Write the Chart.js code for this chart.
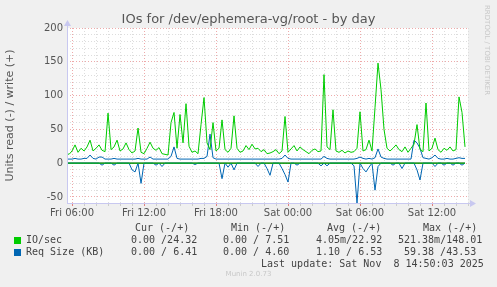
<!DOCTYPE html>
<html>
<head>
<meta charset="utf-8">
<script src="https://cdn.jsdelivr.net/npm/chart.js@4"></script>
<style>
  body { margin: 0; background: #f0f0f0; }
  #wrap { position: relative; width: 497px; height: 287px; overflow: hidden; }
  #wrap canvas { position: absolute; left: 0; top: 0; }
  .t { position: absolute; white-space: pre; color: #444; }
  .mono { font-family: "DejaVu Sans Mono", monospace; font-size: 10px; line-height: 12px; }
  .sq { position: absolute; width: 7px; height: 7px; }
</style>
</head>
<body>
<div id="wrap">
  <canvas id="myChart" width="497" height="287"></canvas>
  <div class="t" style="left:0;width:497px;top:11px;text-align:center;font:13px 'DejaVu Sans';color:#555">IOs for /dev/ephemera-vg/root - by day</div>
  <div class="t" style="left:480px;top:5px;font:7px 'DejaVu Sans';color:#c8c8c8;transform-origin:0 0;transform:translate(11px,0) rotate(90deg)">RRDTOOL / TOBI OETIKER</div>
  <div class="t mono" style="left:135px;top:222px">Cur (-/+)</div>
  <div class="t mono" style="left:231px;top:222px">Min (-/+)</div>
  <div class="t mono" style="left:327px;top:222px">Avg (-/+)</div>
  <div class="t mono" style="left:423px;top:222px">Max (-/+)</div>
  <div class="sq" style="left:14px;top:237px;background:#00cc00"></div>
  <div class="t mono" style="left:26px;top:234px">IO/sec</div>
  <div class="t mono" style="left:131px;top:234px">0.00 /24.32</div>
  <div class="t mono" style="left:223px;top:234px">0.00 / 7.51</div>
  <div class="t mono" style="left:316px;top:234px">4.05m/22.92</div>
  <div class="t mono" style="left:398px;top:234px">521.38m/148.01</div>
  <div class="sq" style="left:14px;top:249px;background:#0066b3"></div>
  <div class="t mono" style="left:26px;top:246px">Req Size (KB)</div>
  <div class="t mono" style="left:131px;top:246px">0.00 / 6.41</div>
  <div class="t mono" style="left:223px;top:246px">0.00 / 4.60</div>
  <div class="t mono" style="left:316px;top:246px">1.10 / 6.53</div>
  <div class="t mono" style="left:404px;top:246px">59.38 /43.53</div>
  <div class="t mono" style="left:261px;top:258px">Last update: Sat Nov  8 14:50:03 2025</div>
  <div class="t" style="left:0;width:497px;top:270px;text-align:center;font:7px 'DejaVu Sans';color:#c8c8c8">Munin 2.0.73</div>
</div>
<script>
// hours since Fri 00:00, one sample every 15 minutes from Fri 05:30 to Sat 14:45
var startHour = 5.5;
var stepHour = 0.25;

var ioWrite = [15,13,18,27,16,22,18,24,34,18, 22,27,19,17,74,20,24,34,18,21,
               30,20,15,18,52,16,14,22,31,22, 19,23,14,13,12,60,75,22,72,30,
               88,25,16,18,14,57,97,30,20,60, 18,22,64,20,16,22,70,22,16,18,
               26,20,28,21,22,17,20,14,15,17, 20,14,18,69,16,21,26,18,24,20,
               17,14,19,21,17,18,131,24,20,79, 18,16,19,15,18,16,17,22,76,18,
               20,34,18,82,148,109,50,22,18,22, 27,20,17,24,16,22,28,57,20,17,
               89,18,22,37,20,16,22,19,24,18, 20,98,75,24];
var ioRead = [];
var sizeWrite = [6,6,6,7,6,6,7,7,12,7, 6,9,9,6,6,6,7,6,6,6,
                 6,6,6,6,7,6,6,6,9,6, 6,6,6,6,6,10,24,7,6,6,
                 6,6,6,6,6,7,7,10,43,8, 6,6,6,6,6,6,6,6,6,6,
                 6,6,6,6,6,6,6,6,6,6, 6,6,7,12,7,6,6,6,6,6,
                 6,6,6,6,6,6,10,7,6,6, 6,6,6,6,6,6,6,7,9,7,
                 6,7,6,8,21,9,7,6,6,6, 6,6,6,6,6,6,34,30,22,8,
                 7,6,8,12,7,6,6,7,6,6, 7,8,7,7];
var sizeRead = [0,0,0,0,0,0,0,0,0,0, 0,0,-3,0,0,0,-3,0,0,0,
                0,0,-10,-13,0,-30,0,0,0,0, -3,0,-5,0,0,0,0,0,0,0,
                0,0,0,-2,0,0,0,0,0,0, 0,0,-23,0,-6,0,-10,0,0,0,
                0,0,0,0,-5,0,0,-8,-18,0, 0,0,-8,-17,-28,0,0,-3,0,0,
                0,0,0,0,0,-4,0,-4,0,0, 0,0,0,0,0,0,-4,-59,0,-8,
                -13,-6,0,-40,-5,0,0,0,0,-3, 0,0,-8,0,0,0,0,-10,-25,0,
                0,0,0,-5,0,0,-3,0,0,-3, 0,0,-3,0];
var zeroLine = [0, 0];

var xMin = 5.58, xMax = 39.0;
var yMin = -59, yMax = 200;
var dayNames = ['Fri', 'Sat'];

var times = [];
for (var i = 0; i < ioWrite.length; i++) { times.push(startHour + i * stepHour); ioRead.push(0); }
function pts(arr) { return arr.map(function (v, i) { return {x: times[i], y: v}; }); }

var plotBg = {
    id: 'plotBg',
    beforeDraw: function (chart) {
        var a = chart.chartArea, c = chart.ctx;
        c.save(); c.fillStyle = '#ffffff';
        c.fillRect(a.left, a.top, a.right - a.left, a.bottom - a.top);
        c.restore();
    },
    afterDraw: function (chart) {
        var a = chart.chartArea, c = chart.ctx;
        c.save();
        c.strokeStyle = '#c8c8f0'; c.fillStyle = '#c8c8f0'; c.lineWidth = 1;
        c.beginPath();
        c.moveTo(a.left + 0.5, a.bottom); c.lineTo(a.left + 0.5, a.top - 4);
        c.moveTo(a.left, a.bottom + 0.5); c.lineTo(a.right + 4, a.bottom + 0.5);
        c.stroke();
        c.beginPath();
        c.moveTo(a.left - 3, a.top - 2); c.lineTo(a.left + 4, a.top - 2); c.lineTo(a.left + 0.5, a.top - 8); c.fill();
        c.beginPath();
        c.moveTo(a.right + 2, a.bottom - 3); c.lineTo(a.right + 2, a.bottom + 4); c.lineTo(a.right + 8, a.bottom + 0.5); c.fill();
        c.restore();
    }
};

var ctx = document.getElementById('myChart').getContext('2d');
var myChart = new Chart(ctx, {
    type: 'line',
    data: {
        datasets: [
            {label: 'IO/sec read', data: pts(ioRead), borderColor: '#00cc00', borderWidth: 1, pointRadius: 0},
            {label: 'Req Size read', data: pts(sizeRead), borderColor: '#0066b3', borderWidth: 1, pointRadius: 0},
            {label: 'IO/sec', data: pts(ioWrite), borderColor: '#00cc00', borderWidth: 1, pointRadius: 0},
            {label: 'Req Size (KB)', data: pts(sizeWrite), borderColor: '#0066b3', borderWidth: 1, pointRadius: 0},
            {label: 'zero', data: [{x: times[0], y: zeroLine[0]}, {x: times[times.length - 1], y: zeroLine[1]}],
             borderColor: '#000000', borderWidth: 1, pointRadius: 0}
        ]
    },
    options: {
        responsive: false,
        animation: false,
        layout: {padding: {left: 0, top: 28, right: 29, bottom: 64}},
        plugins: {legend: {display: false}, tooltip: {enabled: false}},
        scales: {
            x: {
                type: 'linear', min: xMin, max: xMax,
                afterFit: function (s) { s.height = 20; },
                ticks: {
                    stepSize: 1, includeBounds: false, autoSkip: false, maxRotation: 0, padding: 1,
                    color: '#555', font: {family: 'DejaVu Sans', size: 10},
                    callback: function (v) {
                        if (v % 6 !== 0) return '';
                        var h = v % 24;
                        return dayNames[Math.floor(v / 24)] + ' ' + (h < 10 ? '0' : '') + h + ':00';
                    }
                },
                grid: {
                    color: function (c) { return c.tick && c.tick.value % 6 === 0 ? '#eeaaaa' : '#dddddd'; },
                    tickColor: function (c) { return c.tick && c.tick.value % 6 === 0 ? '#e08080' : '#cccccc'; },
                    tickLength: 3, lineWidth: 1
                },
                border: {display: false, dash: [1, 2]}
            },
            y: {
                min: yMin, max: yMax,
                afterFit: function (s) { s.width = 67; },
                title: {display: true, text: 'Units read (-) / write (+)', color: '#555',
                        font: {family: 'DejaVu Sans', size: 11}, padding: {top: 4, bottom: 0}},
                ticks: {
                    stepSize: 10, includeBounds: false, padding: 4, autoSkip: false, color: '#555',
                    font: {family: 'DejaVu Sans', size: 10},
                    callback: function (v) { return v % 50 === 0 ? v : ''; }
                },
                grid: {
                    color: function (c) { return c.tick && c.tick.value % 50 === 0 ? '#eeaaaa' : '#dddddd'; },
                    drawTicks: false, lineWidth: 1
                },
                border: {display: false, dash: [1, 2]}
            }
        }
    },
    plugins: [plotBg]
});
</script>
</body>
</html>
